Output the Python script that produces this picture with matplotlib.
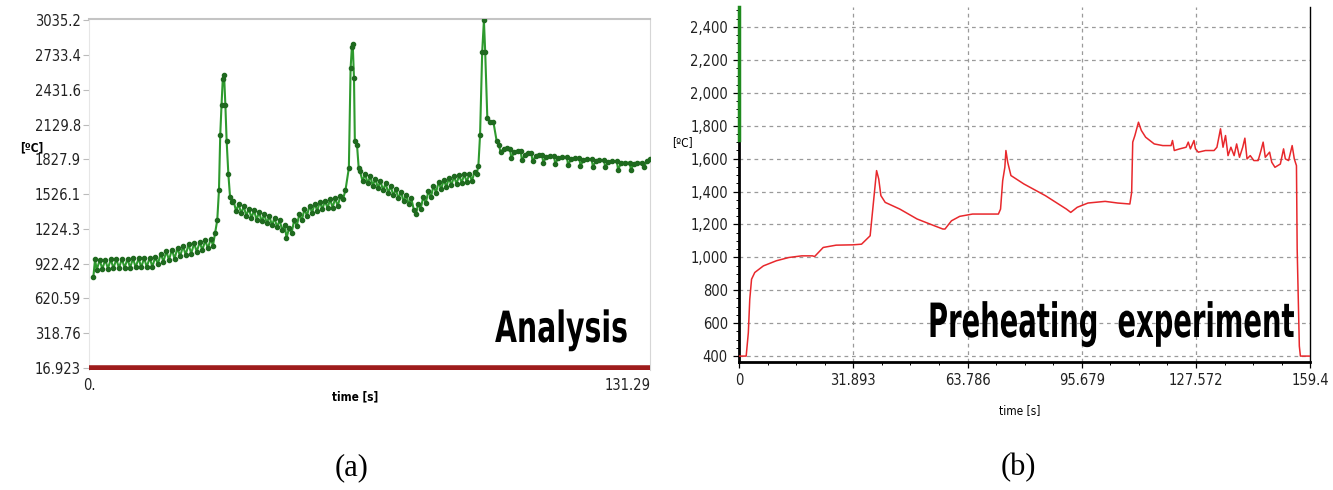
import numpy as np
import matplotlib
matplotlib.use("Agg")
import matplotlib.pyplot as plt
from matplotlib import font_manager
from matplotlib.font_manager import FontProperties
from matplotlib.patheffects import AbstractPathEffect
from matplotlib.transforms import Affine2D
from matplotlib.ticker import FixedLocator, MultipleLocator

# (a) Analysis: temperature trace (green)
t_a = [1.0, 1.4, 1.8, 2.5, 3.1, 3.8, 4.4, 5.1, 5.7, 6.4, 7.0, 7.7, 8.3, 9.0, 9.6, 10.3, 10.9, 11.6,
       12.2, 12.9, 13.5, 14.2, 14.8, 15.5, 16.1,
       16.8, 17.4, 18.1, 18.7, 19.4, 20.0, 20.7, 21.3, 22.0, 22.6, 23.3, 23.9, 24.6, 25.2, 25.9,
       26.5, 27.2, 27.8, 28.5, 29.0, 29.5,
       30.0, 30.4, 30.7, 31.0, 31.3, 31.6, 31.9, 32.2, 32.6, 33.0, 33.4, 33.8,
       34.4, 35.0, 35.6, 36.2, 36.8, 37.4, 38.0, 38.6, 39.2, 39.8, 40.4, 41.0, 41.6, 42.2, 42.8,
       43.4, 44.0, 44.6, 45.2, 45.8, 46.2,
       46.8, 47.4, 48.0, 48.6, 49.2, 49.8, 50.4, 51.0, 51.6, 52.2, 52.8, 53.4, 54.0, 54.6, 55.2,
       55.8, 56.4, 57.0, 57.6, 58.2, 58.8, 59.4, 60.0,
       60.8, 61.2, 61.5, 61.7, 62.0, 62.2, 62.7, 63.1, 63.4,
       64.0, 64.6, 65.2, 65.8, 66.4, 67.0, 67.6, 68.2, 68.8, 69.4, 70.0, 70.6, 71.2, 71.8, 72.4,
       73.0, 73.6, 74.2, 74.8, 75.4, 76.0, 76.5,
       77.0, 77.6, 78.2, 78.8, 79.4, 80.0, 80.6, 81.2, 81.8, 82.4, 83.0, 83.6, 84.2, 84.8, 85.4,
       86.0, 86.6, 87.2, 87.8, 88.4, 89.0, 89.6, 90.2, 90.7, 91.1,
       91.5, 92.0, 92.4, 92.7, 93.2, 93.9, 94.6, 95.4, 95.9,
       96.3, 97.0, 97.8, 98.5, 98.8, 99.5, 100.3, 101.0, 101.3, 102.0, 102.8, 103.5, 103.8, 104.5,
       105.3, 106.0, 106.3, 107.0, 107.8, 108.8, 109.1, 109.8, 110.6, 111.8, 112.1, 112.8, 113.6,
       114.7, 115.0, 115.7, 116.5, 117.6, 117.9, 118.6, 119.4, 120.5, 120.8, 121.5, 122.3, 123.5,
       123.8, 124.5, 125.3, 126.5, 126.8, 127.5, 128.3, 129.5, 129.8, 130.5, 131.2]
temp_a = [803, 960, 870, 955, 875, 958, 880, 960, 882, 962, 885, 965, 885, 965, 888, 968, 890, 970,
          890, 972, 893, 975, 895, 980, 920,
          1010, 940, 1030, 955, 1045, 965, 1060, 985, 1075, 1000, 1090, 1010, 1100, 1025, 1110,
          1040, 1125, 1055, 1140, 1080, 1190,
          1300, 1560, 2040, 2300, 2530, 2560, 2300, 1985, 1700, 1500, 1460, 1470,
          1380, 1440, 1360, 1420, 1340, 1400, 1320, 1385, 1305, 1370, 1290, 1350, 1275, 1335, 1255,
          1320, 1240, 1300, 1215, 1260, 1145,
          1230, 1190, 1300, 1250, 1350, 1300, 1395, 1340, 1425, 1365, 1445, 1380, 1460, 1395, 1470,
          1405, 1480, 1410, 1490, 1420, 1510, 1480, 1560,
          1754, 2618, 2800, 2834, 2531, 1984, 1955, 1754, 1725,
          1640, 1700, 1620, 1680, 1600, 1660, 1580, 1640, 1560, 1620, 1540, 1595, 1515, 1570, 1490,
          1545, 1465, 1520, 1440, 1490, 1390, 1350,
          1440, 1400, 1500, 1450, 1550, 1500, 1600, 1540, 1630, 1570, 1650, 1590, 1665, 1605, 1680,
          1615, 1690, 1625, 1700, 1630, 1705, 1640, 1720, 1700, 1770,
          2041, 2762, 3035, 2762, 2185, 2157, 2157, 1984, 1955,
          1890, 1920, 1930, 1920, 1840, 1890, 1905, 1900, 1820, 1870, 1885, 1880, 1810, 1860,
          1870, 1865, 1800, 1850, 1860, 1855, 1790, 1840, 1850, 1850, 1780, 1830, 1840,
          1840, 1775, 1820, 1830, 1830, 1765, 1815, 1825, 1820, 1760, 1805, 1810, 1810,
          1740, 1795, 1800, 1800, 1740, 1790, 1800, 1800, 1760, 1810, 1830]
# dark red baseline trace
t_a_base = [0.0, 131.29]
temp_a_base = [16.923, 16.923]
yticks_a = [16.923, 318.76, 620.59, 922.42, 1224.3, 1526.1, 1827.9, 2129.8, 2431.6, 2733.4, 3035.2]
ylabels_a = ['16.923', '318.76', '620.59', '922.42', '1224.3', '1526.1', '1827.9', '2129.8',
             '2431.6', '2733.4', '3035.2']
xticks_a = [0.0, 131.29]
xlabels_a = ['0.', '131.29']

# (b) Preheating experiment: temperature trace (red)
t_b = [0.0, 2.0, 2.6, 3.0, 3.5, 4.4, 6.8, 10.4, 13.9, 17.5, 20.5, 21.1, 23.5, 27.1, 31.8, 34.2,
       36.6, 37.8, 38.4, 39.0, 39.6, 40.8, 44.9, 49.7, 54.5, 56.9, 57.5, 59.3, 61.6, 65.2, 68.8,
       72.4, 73.0, 73.6, 74.2, 74.5, 75.0, 75.9, 79.5, 85.5, 91.4, 92.6, 94.4, 97.4, 102.2, 105.7,
       109.1, 109.6, 109.9, 110.5, 111.5, 112.3, 113.5, 115.9, 118.3, 120.6, 121.0, 121.5, 123.0,
       124.8, 125.4, 126.0, 127.0, 127.4, 128.2, 130.2, 132.6, 133.4, 134.4, 135.1, 135.8, 136.5,
       137.3, 138.2, 138.9, 139.7, 140.6, 141.2, 141.8, 142.7, 143.7, 144.9, 145.7, 146.3, 146.9,
       148.1, 148.7, 149.6, 151.1, 152.0, 152.5, 153.4, 154.4, 155.0, 155.6, 155.8, 156.4, 156.7,
       159.4]
temp_b = [400, 400, 542, 745, 867, 908, 948, 979, 999, 1009, 1009, 1005, 1060, 1074, 1076, 1080,
          1131, 1395, 1527, 1476, 1375, 1334, 1293, 1233, 1192, 1172, 1172, 1222, 1249, 1263, 1263,
          1263, 1293, 1466, 1547, 1649, 1578, 1497, 1446, 1375, 1293, 1273, 1304, 1330, 1340, 1330,
          1324, 1395, 1700, 1740, 1821, 1771, 1730, 1689, 1679, 1679, 1710, 1649, 1659,
          1669, 1700, 1659, 1710, 1659, 1639, 1649, 1649, 1669, 1781, 1669, 1740, 1618,
          1669, 1618, 1689, 1608, 1669, 1724, 1598, 1618, 1588, 1588, 1649, 1700, 1608,
          1639, 1578, 1547, 1567, 1659, 1598, 1588, 1679, 1598, 1557, 1050, 461, 400,
          400]
# green trace hidden on the left axis
t_b_green = [0.0, 0.0]
temp_b_green = [1710, 2521]
xticks_b = [0, 31.893, 63.786, 95.679, 127.572, 159.4]
xlabels_b = ['0', '31.893', '63.786', '95.679', '127.572', '159.4']
yticks_b = [400, 600, 800, 1000, 1200, 1400, 1600, 1800, 2000, 2200, 2400]


# pick a narrow sans font if one is installed, else fall back to Liberation Sans
def find_font(bold):
    best = None
    for f in font_manager.fontManager.ttflist:
        name = f.fname.lower()
        if 'mono' in name or 'serif' in name and 'sans' not in name:
            continue
        is_bold = f.weight in ('bold', 700, 'heavy') or 'bold' in name
        if is_bold != bold or 'oblique' in name or 'italic' in name:
            continue
        if 'narrow' in name or 'condensed' in name or f.stretch in ('condensed', 'semi-condensed'):
            if 'liberation' in name:
                return f.fname
            if best is None:
                best = f.fname
    return best


_r = find_font(False)
_b = find_font(True)
fp_reg = FontProperties(fname=_r) if _r else FontProperties(family='Liberation Sans')
fp_bold = FontProperties(fname=_b) if _b else FontProperties(family='Liberation Sans', weight='bold')


def fp(base, size):
    p = base.copy()
    p.set_size(size)
    return p


class Squeeze(AbstractPathEffect):
    """narrow the glyphs horizontally about a fixed x (pixels)"""
    def __init__(self, sx, x0):
        super().__init__()
        self.sx = sx
        self.x0 = x0

    def draw_path(self, renderer, gc, tpath, affine, rgbFace=None):
        sq = Affine2D().translate(-self.x0, 0).scale(self.sx, 1).translate(self.x0, 0)
        renderer.draw_path(gc, tpath, affine + sq, rgbFace)


W, H = 1333, 490
fig = plt.figure(figsize=(13.33, 4.9), dpi=100)

# ---- panel (a)
ax1 = fig.add_axes([0.0668, 0.2449, 0.4209, 0.7163])
ax1.plot(t_a_base, temp_a_base, color='#9e1c1c', lw=4, solid_capstyle='butt', zorder=3)
ax1.plot(t_a, temp_a, color='#2e9a2e', lw=1.5, marker='o', ms=3.0,
         mfc='#1f6a1f', mec='#1f6a1f', zorder=4)
ax1.set_xlim(0, 131.29)
ax1.set_ylim(-0.5, 3047)
ax1.yaxis.set_major_locator(FixedLocator(yticks_a))
ax1.set_yticklabels(ylabels_a, fontproperties=fp(fp_reg, 10.5), color='#222222')
ax1.set_xticks(xticks_a)
ax1.set_xticklabels(xlabels_a, fontproperties=fp(fp_reg, 10.5), color='#222222')
ax1.get_xticklabels()[1].set_ha('right')
ax1.tick_params(axis='y', length=4, width=0.8, color='#bbbbbb', pad=2)
ax1.tick_params(axis='x', length=0, pad=6)
ax1.spines['top'].set_color('#c4c4c4')
ax1.spines['top'].set_linewidth(1.5)
ax1.spines['left'].set_color('#e6e6e6')
ax1.spines['right'].set_color('#d6d6d6')
ax1.spines['bottom'].set_visible(False)

title_a = fig.text(628 / W, 1 - 342 / H, 'Analysis', fontproperties=fp(fp_bold, 31),
                   va='baseline', ha='right')
fig.text(0.015, 0.698, '[ºC]', fontproperties=fp(fp_bold, 8.5), va='center')
fig.text(0.2663, 0.190, 'time [s]', fontproperties=fp(fp_bold, 8.5),
         ha='center', va='center')

# ---- panel (b)
ax2 = fig.add_axes([0.5544, 0.2612, 0.4284, 0.7245])
ax2.plot(t_b, temp_b, color='#e8282c', lw=1.1, zorder=3)
ax2.plot(t_b_green, temp_b_green, color='#1e8a1e', lw=2.5, zorder=5, clip_on=False)
ax2.set_xlim(0, 159.4)
ax2.set_ylim(364, 2521)
ax2.set_xticks(xticks_b)
ax2.set_xticklabels(xlabels_b, fontproperties=fp(fp_reg, 10.5), color='#222222')
ax2.set_yticks(yticks_b)
ax2.set_yticklabels([f'{v:,}' for v in yticks_b], fontproperties=fp(fp_reg, 10.5),
                    color='#222222')
ax2.xaxis.set_minor_locator(MultipleLocator(31.893 / 4))
ax2.yaxis.set_minor_locator(MultipleLocator(50))
ax2.tick_params(which='major', length=4, width=0.9, pad=4)
ax2.tick_params(which='minor', length=2, width=0.7)
for v in yticks_b:
    ax2.axhline(v, color='#9a9a9a', lw=0.9, ls=(0, (3, 3)), zorder=1)
for v in xticks_b[1:-1]:
    ax2.axvline(v, color='#9a9a9a', lw=0.9, ls=(0, (3, 3)), zorder=1)
ax2.spines['top'].set_visible(False)
ax2.spines['left'].set_linewidth(2)
ax2.spines['bottom'].set_linewidth(2)
ax2.spines['right'].set_linewidth(1)

title_b = fig.text(1295 / W, 1 - 337 / H, 'Preheating  experiment',
                   fontproperties=fp(fp_bold, 34), va='baseline', ha='right')
fig.text(0.504, 0.710, '[ºC]', fontproperties=fp(fp_reg, 8.5), va='center')
fig.text(0.7652, 0.163, 'time [s]', fontproperties=fp(fp_reg, 8.5), ha='center', va='center')

# panel captions
fig.text(0.264, 0.045, '(a)', family=['Liberation Serif', 'DejaVu Serif'], fontsize=22,
         ha='center', va='center')
fig.text(0.7637, 0.045, '(b)', family=['Liberation Serif', 'DejaVu Serif'], fontsize=22,
         ha='center', va='center')

# the big labels are in a very narrow face: squeeze them to the measured widths
fig.canvas.draw()
rend = fig.canvas.get_renderer()
for txt, left_px, right_px in [(title_a, 495, 628), (title_b, 928, 1295)]:
    w = txt.get_window_extent(rend).width
    txt.set_path_effects([Squeeze((right_px - left_px) / w, right_px)])

fig.savefig('out.png', dpi=100)
